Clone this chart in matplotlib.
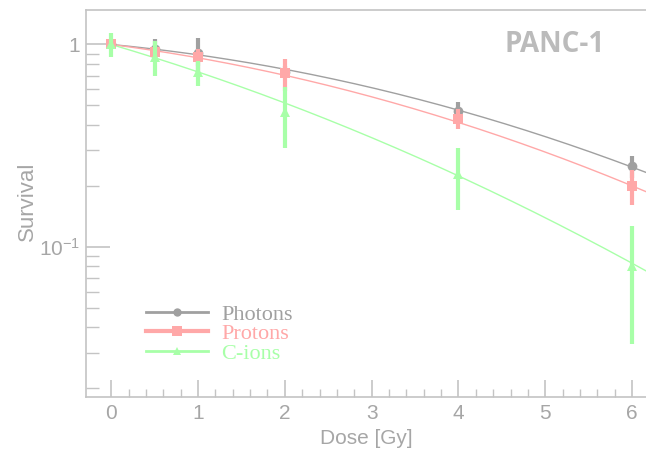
import numpy as np
import matplotlib
matplotlib.use("Agg")
import matplotlib.pyplot as plt
from matplotlib.lines import Line2D
from matplotlib.ticker import FixedLocator, FixedFormatter, NullFormatter

plt.rcParams['font.family'] = ['Liberation Sans', 'DejaVu Sans']
plt.rcParams['mathtext.fontset'] = 'custom'
plt.rcParams['mathtext.rm'] = 'Liberation Sans'
plt.rcParams['mathtext.it'] = 'Liberation Sans'

# ---- data ----
dose = [0, 0.5, 1, 2, 4, 6]
photons = [1.0, 0.945, 0.903, 0.73, 0.47, 0.25]
photons_err = [0.03, 0.12, 0.17, 0.05, 0.05, 0.03]
protons = [1.0, 0.915, 0.865, 0.72, 0.43, 0.20]
protons_err = [0.03, 0.06, 0.08, 0.13, 0.05, 0.04]
cions = [1.0, 0.868, 0.727, 0.463, 0.23, 0.08]
cions_err = [0.135, 0.17, 0.105, 0.155, 0.078, 0.047]

# linear-quadratic fit parameters (alpha, beta)
fit_photons = (0.0953, 0.0229)
fit_protons = (0.129, 0.0232)
fit_cions = (0.292, 0.0205)

labels = ["Photons", "Protons", "C-ions"]
yticks = [0.1, 1.0]
yticklabels = [r"$10^{-1}$", "1"]
xticks = [0, 1, 2, 3, 4, 5, 6]

c_gray = '#a0a0a0'
c_pink = '#ffa8a8'
c_green = '#a8ffa8'
c_axis = '#c4c4c4'
c_text = '#a6a6a6'

fig = plt.figure(figsize=(6.46, 4.53), dpi=100)
ax = fig.add_axes([86/646, 56/453, 1 - 86/646, (397-10)/453])

xlim = (-0.29, 6.16)
dfine = np.linspace(0, xlim[1], 300)

series = [
    (photons, photons_err, fit_photons, c_gray, 'o', 7),
    (protons, protons_err, fit_protons, c_pink, 's', 7),
    (cions, cions_err, fit_cions, c_green, '^', 7),
]

for vals, errs, (a, b), col, mk, ms in series:
    ax.plot(dfine, np.exp(-a*dfine - b*dfine**2), color=col, lw=1.0, zorder=2)
for i, (vals, errs, fit, col, mk, ms) in enumerate(series):
    ax.errorbar(dose, vals, yerr=errs, fmt=mk, color=col, ms=ms, mew=0,
                elinewidth=3, capsize=0, zorder=3+i)

ax.set_yscale('log')
ax.set_xlim(*xlim)
ax.set_ylim(0.0181, 1.48)

ax.xaxis.set_major_locator(FixedLocator(xticks))
ax.xaxis.set_minor_locator(FixedLocator(np.arange(0, 6.2, 0.2)))
ax.yaxis.set_major_locator(FixedLocator(yticks))
ax.yaxis.set_major_formatter(FixedFormatter(yticklabels))
minor_y = [k*10.0**e for e in (-2, -1) for k in range(2, 10)]
ax.yaxis.set_minor_locator(FixedLocator(minor_y))
ax.yaxis.set_minor_formatter(NullFormatter())

ax.tick_params(axis='x', which='major', direction='in', length=12, width=1.2,
               color=c_axis, labelcolor=c_text, labelsize=15, pad=5, top=False)
ax.tick_params(axis='x', which='minor', direction='in', length=6, width=1,
               color=c_axis, top=False)
ax.tick_params(axis='y', which='major', direction='in', length=17, width=1.2,
               color=c_axis, labelcolor=c_text, labelsize=15, pad=4, right=False)
ax.tick_params(axis='y', which='minor', direction='in', length=9, width=1,
               color=c_axis, right=False)

for s in ['left', 'bottom', 'top']:
    ax.spines[s].set_color(c_axis)
    ax.spines[s].set_linewidth(1.2)
ax.spines['right'].set_visible(False)

ax.set_xlabel("Dose [Gy]", color=c_text, fontsize=15, labelpad=4)
ax.set_ylabel("Survival", color=c_text, fontsize=16)
ax.yaxis.set_label_coords((38 - 86) / 560, (453 - 201 - 56) / 387)

ax.text((555 - 86) / 560, (453 - 44 - 56) / 387, "PANC-1", transform=ax.transAxes,
        ha='center', va='center', fontsize=20, fontweight='bold',
        family=['Open Sans', 'DejaVu Sans'], color='#bbbbbb')

handles = [
    Line2D([], [], color=c_gray, lw=2, marker='o', ms=6, mew=0),
    Line2D([], [], color=c_pink, lw=3, marker='s', ms=7, mew=0),
    Line2D([], [], color=c_green, lw=2, marker='^', ms=6, mew=0),
]
leg = ax.legend(handles, labels, loc='upper left', bbox_to_anchor=(51/560, 0.263),
                frameon=False, handlelength=2.8, handletextpad=0.6,
                labelspacing=-0.05, borderaxespad=0,
                prop={'family': 'Liberation Serif', 'size': 16})
for t, c in zip(leg.get_texts(), [c_gray, c_pink, c_green]):
    t.set_color(c)

fig.savefig("out.png", dpi=100)
